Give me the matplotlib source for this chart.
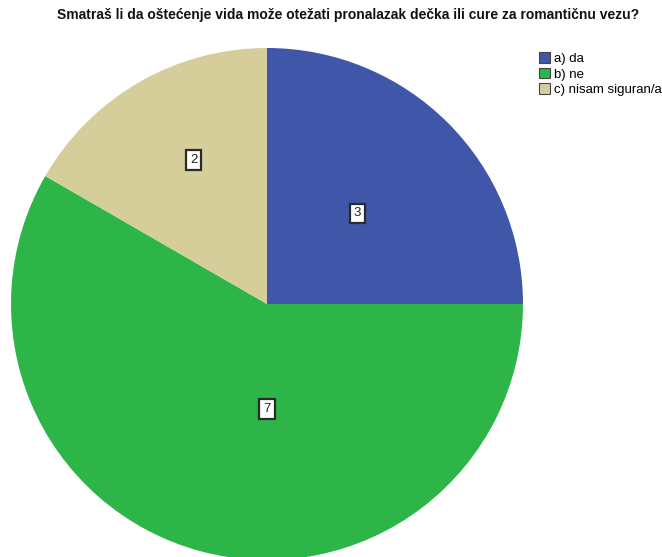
import matplotlib
matplotlib.use("Agg")
import matplotlib.pyplot as plt
import numpy as np

title = "Smatraš li da oštećenje vida može otežati pronalazak dečka ili cure za romantičnu vezu?"
categories = ["a) da", "b) ne", "c) nisam siguran/a"]
values = [3, 7, 2]
colors = ["#3F56A9", "#2EB548", "#D5CE9B"]
# label placement (angle in degrees, fraction of radius)
label_pos = [(45, 0.5), (-90, 0.41), (117, 0.63)]

W, H = 662, 557
fig = plt.figure(figsize=(W / 100, H / 100), dpi=100)
ax = fig.add_axes([0, 0, 1, 1])

cx, cy, r = 267, H - 304, 256
wedges, _ = ax.pie(values, colors=colors, startangle=90, counterclock=False,
                   radius=r, center=(cx, cy), frame=True,
                   wedgeprops=dict(edgecolor="none", linewidth=0))
ax.set_xlim(0, W)
ax.set_ylim(0, H)
ax.set_aspect("equal")
ax.axis("off")

for v, (ang, d) in zip(values, label_pos):
    x = cx + d * r * np.cos(np.radians(ang))
    y = cy + d * r * np.sin(np.radians(ang))
    ax.text(x, y, str(v), ha="center", va="center", fontsize=9.5,
            family="Liberation Sans", color="#222222",
            bbox=dict(boxstyle="square,pad=0.3", fc="white", ec="#2a2a2a", lw=1.6))

fig.text(348 / W, 1 - 15 / H, title, ha="center", va="center", fontsize=10,
         fontweight="bold", family="Liberation Sans", color="#111111")

handles = [plt.Rectangle((0, 0), 1, 1, fc=c, ec="#444444", lw=0.8) for c in colors]
leg = fig.legend(handles, categories, loc="upper left",
                 bbox_to_anchor=(539 / W, 1 - 52 / H), frameon=False,
                 prop=dict(family="Liberation Sans", size=9.5),
                 handlelength=0.85, handleheight=0.85, handletextpad=0.25,
                 labelspacing=0.22, borderpad=0, borderaxespad=0)

fig.savefig("out.png", dpi=100)
